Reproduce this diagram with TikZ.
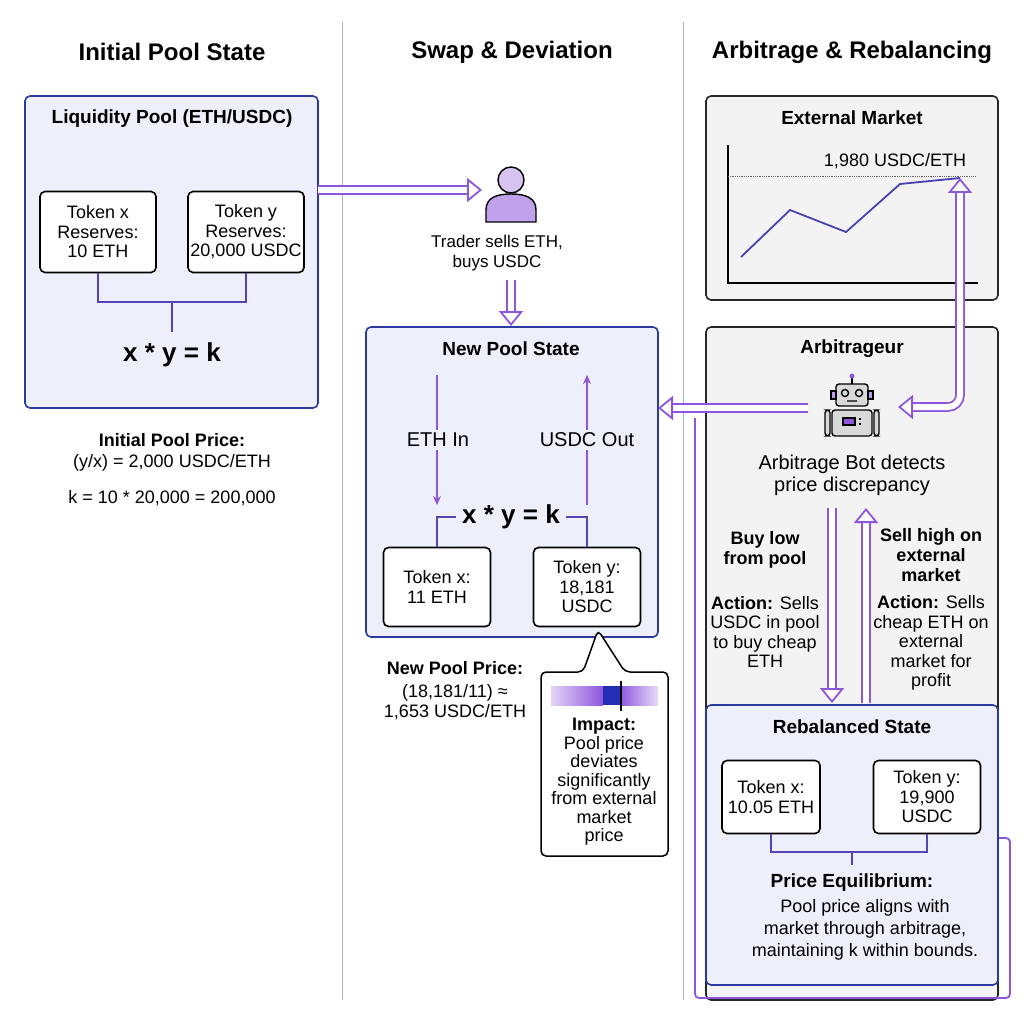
\documentclass[tikz,border=0pt]{standalone}
\usepackage{fontspec}
\setmainfont{Liberation Sans}
\usetikzlibrary{arrows.meta}
\definecolor{purp}{HTML}{8E55DD}
\definecolor{dblue}{HTML}{2B3AA0}
\definecolor{lblue}{HTML}{EDF0FB}
\definecolor{lgray}{HTML}{F3F3F3}
\begin{document}
\begin{tikzpicture}[x=1pt,y=-1pt,
  every node/.style={align=center,font=\fontsize{18}{19.5}\selectfont},
  title/.style={font=\fontsize{24}{26}\selectfont\bfseries},
  btitle/.style={font=\fontsize{19}{21}\selectfont\bfseries},
  bold/.style={font=\fontsize{18}{20}\selectfont\bfseries},
  panel/.style={draw=dblue,line width=1.6pt,fill=lblue,rounded corners=5pt},
  gpanel/.style={draw=black!85,line width=1.6pt,fill=lgray,rounded corners=5pt},
  tok/.style={draw=black,line width=1.6pt,fill=white,rounded corners=5pt},
  conn/.style={draw=dblue!60!purp,line width=1.4pt},
  harrow/.style={draw=purp,line width=1.8pt,double=white,double distance=6pt,-{Triangle[open,length=15pt,width=24pt,fill=white]}},
  thin/.style={draw=purp,line width=1.5pt,-{Stealth[length=9pt,width=8pt]}},
  eq/.style={font=\fontsize{26}{28}\selectfont\bfseries}]
\useasboundingbox (0,0) rectangle (1024,1024);
\fill[white] (0,0) rectangle (1024,1024);
\draw[gray!60,line width=0.8pt] (342,22)--(342,1000) (683,22)--(683,1000);
\node[title] (t1) at (172,52) {Initial Pool State};
\node[title] (t2) at (512,52) {Swap \& Deviation};
\node[title] (t3) at (852,52) {Arbitrage \& Rebalancing};

% left
\draw[panel] (25,96) rectangle (318,408);
\node[btitle] (lp) at (172,119) {Liquidity Pool (ETH/USDC)};
\node[tok,minimum width=116pt,minimum height=81pt] (tx) at (98,232) {Token x\\Reserves:\\10 ETH};
\node[tok,minimum width=116pt,minimum height=81pt,inner sep=1pt] (ty) at (246,232) {Token y\\Reserves:\\20,000 USDC};
\draw[conn] (tx.south)--(98,302)-|(ty.south) (172,302)--(172,332);
\node[eq] (k1) at (172,355) {x * y = k};
\node[bold] (ip) at (172,440) {Initial Pool Price:};
\node (ip2) at (172,463) {(y/x) = 2,000 USDC/ETH};
\node (kk) at (172,498) {k = 10 * 20,000 = 200,000};

% middle
\coordinate (a1s) at (318,190);
\coordinate (a1e) at (482,190);
\draw[harrow] (a1s)--(a1e);
\begin{scope}[shift={(511,196)}]
 \fill[purp!55,draw=black,line width=1.4pt] (-25,26) -- (-25,14) .. controls (-25,2) and (-15,-2) .. (0,-2) .. controls (15,-2) and (25,2) .. (25,14) -- (25,26) -- cycle;
 \fill[purp!35,draw=black,line width=1.4pt] (0,-16) circle (13);
\end{scope}
\node[font=\fontsize{17}{20}\selectfont] (tr) at (497,253) {Trader sells ETH,\\buys USDC};
\coordinate (a2s) at (511,280); \coordinate (a2e) at (511,326);
\draw[harrow] (a2s)--(a2e);
\draw[panel] (366,327) rectangle (658,637);
\node (np) [btitle] at (511,349) {New Pool State};
\coordinate (ei1) at (437,375); \coordinate (ei2) at (437,505);
\draw[thin] (ei1)--(ei2);
\coordinate (uo1) at (587,505); \coordinate (uo2) at (587,375);
\draw[thin] (uo1)--(uo2);
\node[fill=lblue,font=\fontsize{20}{22}\selectfont] (ein) at (438,440) {ETH In};
\node[fill=lblue,font=\fontsize{20}{22}\selectfont] (uout) at (587,440) {USDC Out};
\node[eq] (k2) at (511,517) {x * y = k};
\node[tok,minimum width=107pt,minimum height=79pt] (nx) at (437,587) {Token x:\\11 ETH};
\node[tok,minimum width=107pt,minimum height=79pt] (ny) at (587,587) {Token y:\\18,181\\USDC};
\draw[conn] (nx.north)--(437,517)--(456,517) (ny.north)--(587,517)--(566,517);
\node[bold] (npp) at (455,668) {New Pool Price:};
\node (npp2) at (455,702) {(18,181/11) ≈\\1,653 USDC/ETH};
% impact callout
\draw[draw=black,line width=1.5pt,fill=white,rounded corners=5pt] (541,672) -- (583,672) -- (598,630) -- (625,672) -- (668,672) -- (668,856) -- (541,856) -- cycle;
\shade[left color=purp!25,right color=purp] (551,686) rectangle (603,705);
\fill[dblue!80!blue] (603,686) rectangle (620,705);
\shade[left color=purp,right color=purp!20] (620,686) rectangle (658,705);
\draw[black,line width=2.5pt] (621,681)--(621,711);
\node[font=\fontsize{18}{18.5}\selectfont] (imp) at (604,782) {\textbf{Impact:}\\Pool price\\deviates\\significantly\\from external\\market\\price};

% right
\draw[gpanel] (706,96) rectangle (998,300);
\node[btitle] (em) at (852,118) {External Market};
\draw[black,line width=1.2pt] (728,145)--(728,283)--(978,283);
\draw[black!60,densely dotted,line width=0.8pt] (728,176)--(976,176);
\node (pr) at (895,161) {1,980 USDC/ETH};
\draw[dblue!70!purp,line width=1.8pt] (741,257)--(790,210)--(846,232)--(900,184)--(960,178);
\coordinate (chart) at (960,178);

\draw[gpanel] (706,327) rectangle (998,1000);
\node[btitle] (arb) at (852,349) {Arbitrageur};
% robot
\begin{scope}[shift={(852,410)},line width=1.4pt]
 \draw (0,-26)--(0,-33); \fill[purp] (0,-34) circle (2.5);
 \fill[black!15,draw=black,rounded corners=3pt] (-16,-26) rectangle (16,-4);
 \fill[purp!60,draw=black] (-21,-19) rectangle (-16,-11) (16,-19) rectangle (21,-11);
 \draw (-7,-17) circle (3.5) (7,-17) circle (3.5) (-5,-9)--(5,-9);
 \fill[black!15,draw=black,rounded corners=3pt] (-20,0) rectangle (20,26);
 \fill[black!15,draw=black,rounded corners=3pt] (-27,0) rectangle (-22,26) (22,0) rectangle (27,26);
 \fill[purp,draw=black] (-9,8) rectangle (3,15);
 \draw (7,9)--(9,9) (7,14)--(9,14);
\end{scope}
\node[font=\fontsize{20}{22}\selectfont] (bot) at (852,475) {Arbitrage Bot detects\\price discrepancy};
\coordinate (rb) at (898,407);
\draw[harrow,{Triangle[open,length=15pt,width=24pt,fill=white]}-{Triangle[open,length=15pt,width=24pt,fill=white]}] (chart) -- (960,392) [rounded corners=12pt] -- (960,407) -- (rb);
\coordinate (rl) at (808,408); \coordinate (npr) at (658,408);
\draw[harrow] (rl)--(npr);
\draw[purp,line width=1.8pt,rounded corners=4pt] (695,418)--(695,998)--(1010,998)--(1010,838)--(998,838);
\coordinate (d1) at (832,508); \coordinate (d2) at (832,703);
\draw[harrow] (d1)--(d2);
\coordinate (u1) at (866,703); \coordinate (u2) at (866,508);
\draw[harrow] (u1)--(u2);
\node[bold] (bl) at (765,550) {Buy low\\from pool};
\node (ba) at (765,632) {\textbf{Action:} Sells\\USDC in pool\\to buy cheap\\ETH};
\node[bold] (sh) at (931,555) {Sell high on\\external\\market};
\node (sa) at (931,643) {\textbf{Action:} Sells\\cheap ETH on\\external\\market for\\profit};

\draw[panel] (706,705) rectangle (998,985);
\node[btitle] (rs) at (852,727) {Rebalanced State};
\node[tok,minimum width=98pt,minimum height=73pt] (rx) at (771,797) {Token x:\\10.05 ETH};
\node[tok,minimum width=107pt,minimum height=73pt] (ry) at (927,797) {Token y:\\19,900\\USDC};
\draw[conn] (rx.south)--(771,852)-|(ry.south) (852,852)--(852,865);
\node[font=\fontsize{19}{20}\selectfont\bfseries] (pe) at (852,883) {Price Equilibrium:};
\node[font=\fontsize{18}{22}\selectfont] (pe2) at (865,930) {Pool price aligns with\\market through arbitrage,\\maintaining k within bounds.};
\end{tikzpicture}
\end{document}
